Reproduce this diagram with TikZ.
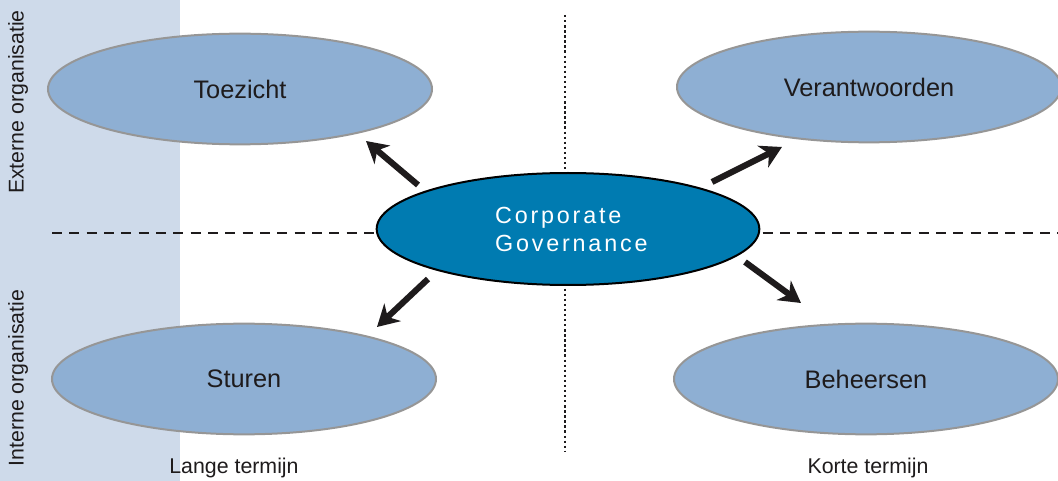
\documentclass[tikz,border=0pt]{standalone}
\usepackage{fontspec}
\setmainfont{Liberation Sans}
\newfontfamily\widefont[LetterSpace=12]{Liberation Sans}
\usetikzlibrary{shapes.geometric,arrows.meta}

\definecolor{stripblue}{RGB}{206,218,234}
\definecolor{paleblue}{RGB}{142,175,211}
\definecolor{deepblue}{RGB}{0,123,177}
\definecolor{rimgrey}{RGB}{150,150,150}
\definecolor{inkgrey}{RGB}{30,27,28}

\tikzset{
  outer/.style={ellipse, draw=rimgrey, line width=1.5pt, fill=paleblue,
    minimum width=288pt, minimum height=83pt, font=\fontsize{19}{22}\selectfont, text=inkgrey},
  core/.style={ellipse, draw=black, line width=1.5pt, fill=deepblue,
    minimum width=287pt, minimum height=84pt, text=white, align=left,
    font=\widefont\fontsize{17.5}{21}\selectfont},
  bigarrow/.style={line width=4.6pt, -{Stealth[length=16pt,width=18pt,inset=5pt]}, color=inkgrey},
  sidelabel/.style={font=\fontsize{16}{18}\selectfont, text=inkgrey},
}

\begin{document}
\begin{tikzpicture}[x=0.75pt,y=0.75pt,yscale=-1,xscale=1]
\useasboundingbox (0,0) rectangle (1058,481);

%Shape: Rectangle [left strip]
\fill [stripblue] (0,0) rectangle (180,481);

%Straight Lines [dotted, vertical]
\coordinate (vtop) at (565,15);
\coordinate (vbot) at (565,452);
\draw [line width=1.8pt, dash pattern=on 1.8pt off 2pt, color=inkgrey] (vtop) -- (vbot);
%Straight Lines [dashed, horizontal]
\coordinate (hleft) at (52,233);
\coordinate (hright) at (1058,233);
\draw [line width=1.6pt, dash pattern=on 7.5pt off 5.5pt, color=inkgrey] (hleft) -- (hright);

%Shape: Ellipse
\node (toe) at (240,89) [outer] {Toezicht};
\node (ver) at (869,87) [outer] {Verantwoorden};
\node (stu) at (244,379) [outer] {Sturen};
\node (beh) at (866,379) [outer] {Beheersen};
\node (cg) at (568,229) [core] {\hspace*{5pt}Corporate\\\hspace*{5pt}Governance};

%Straight Lines [arrows]
\coordinate (ulS) at (418,185);
\coordinate (ulE) at (366,141);
\coordinate (urS) at (712,182);
\coordinate (urE) at (782,147);
\coordinate (llS) at (428,279);
\coordinate (llE) at (377,327);
\coordinate (lrS) at (745,262);
\coordinate (lrE) at (801,303);
\draw [bigarrow] (ulS) -- (ulE);
\draw [bigarrow] (urS) -- (urE);
\draw [bigarrow] (llS) -- (llE);
\draw [bigarrow] (lrS) -- (lrE);

% Text Node
\node (ext) at (18,102) [sidelabel, rotate=90] {Externe organisatie};
\node (int) at (18,378) [sidelabel, rotate=90] {Interne organisatie};
\node (lang) at (234,468) [sidelabel] {Lange termijn};
\node (kort) at (868,468) [sidelabel] {Korte termijn};

\end{tikzpicture}
\end{document}
